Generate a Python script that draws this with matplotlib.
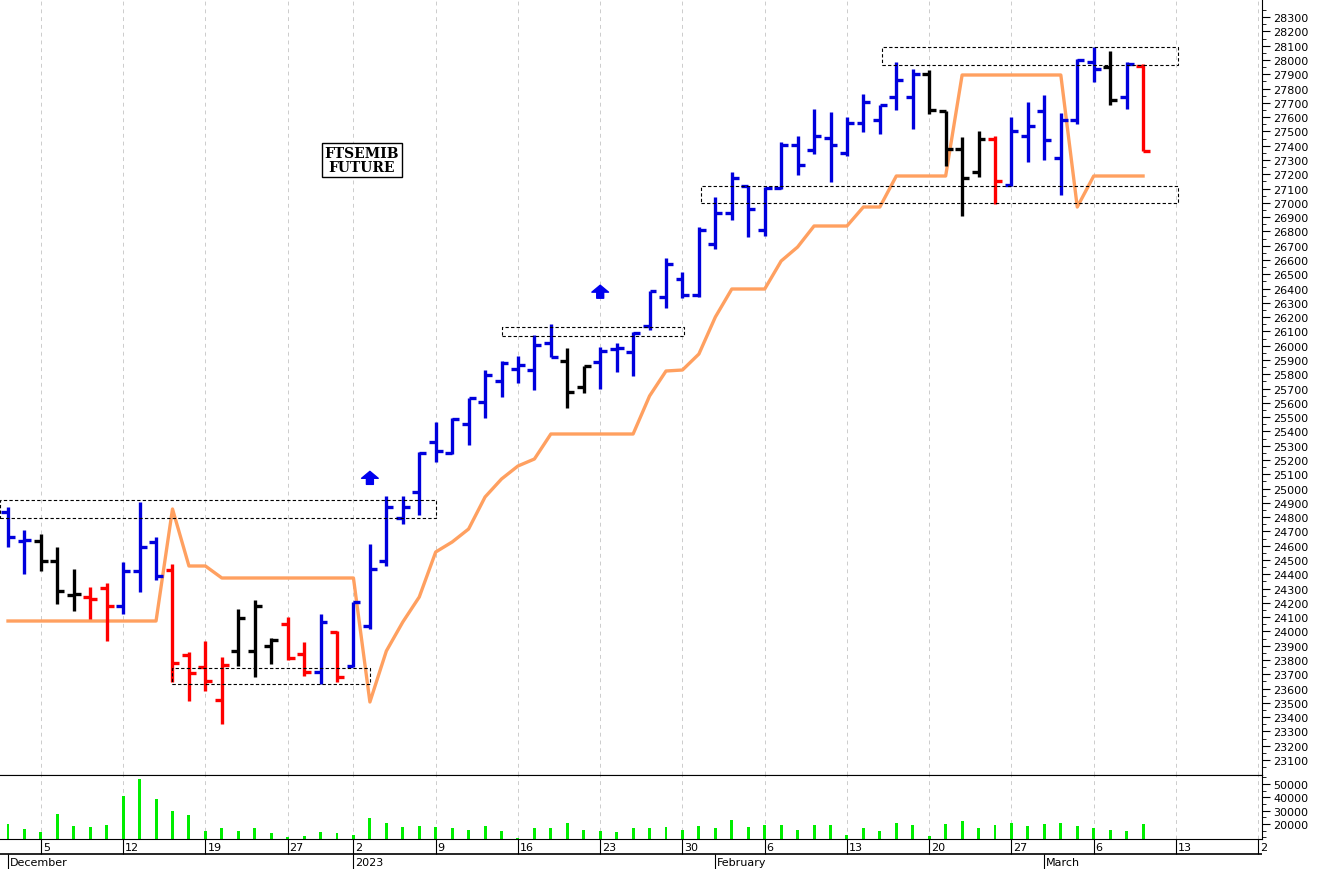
import matplotlib
matplotlib.use("Agg")
import matplotlib.pyplot as plt
from matplotlib.patches import Rectangle

# daily bars, Dec 1 2022 .. Mar 9 2023 (trading days only)
opens = [24836, 24633, 24633, 24493, 24255, 24241, 24304, 24178, 24423, 24626,
         24430, 23835, 23751, 23520, 23863, 23863, 23898, 24052, 23842, 23716,
         23996, 23758, 24038, 24493, 24794, 24976, 25326, 25249, 25452, 25606,
         25753, 25837, 25830, 26019, 25893, 25711, 25886, 25977, 25956, 26138,
         26341, 26467, 26355, 26712, 26929, 27118, 26810, 27104, 27405, 27370,
         27454, 27349, 27559, 27580, 27741, 27741, 27902, 27643, 27377, 27216,
         27447, 27125, 27468, 27643, 27314, 27580, 27986, 27951, 27741, 27958]
highs = [24871, 24710, 24682, 24591, 24437, 24311, 24339, 24486, 24906, 24661,
         24472, 23856, 23933, 23821, 24157, 24220, 23954, 24101, 23926, 24122,
         24003, 24206, 24612, 24948, 24948, 25256, 25466, 25494, 25634, 25830,
         25893, 25928, 26075, 26152, 25984, 25858, 25991, 26019, 26096, 26383,
         26614, 26516, 26831, 27041, 27216, 27118, 27111, 27426, 27468, 27657,
         27636, 27601, 27762, 27685, 27986, 27937, 27930, 27643, 27461, 27503,
         27468, 27601, 27706, 27755, 27629, 28007, 28091, 28063, 27986, 27972]
lows = [24591, 24402, 24423, 24192, 24143, 24087, 23933, 24122, 24276, 24360,
        23646, 23513, 23583, 23352, 23758, 23681, 23772, 23800, 23688, 23632,
        23646, 23751, 24017, 24458, 24752, 24815, 25186, 25242, 25305, 25494,
        25641, 25739, 25690, 25921, 25564, 25669, 25697, 25816, 25788, 26110,
        26264, 26334, 26341, 26677, 26880, 26761, 26768, 27097, 27195, 27342,
        27146, 27328, 27496, 27482, 27650, 27517, 27622, 27258, 26908, 27181,
        26992, 27118, 27286, 27300, 27055, 27552, 27846, 27685, 27657, 27363]
closes = [24661, 24640, 24493, 24283, 24262, 24227, 24178, 24423, 24591, 24388,
          23779, 23709, 23653, 23765, 24094, 24178, 23940, 23814, 23716, 24066,
          23681, 24206, 24437, 24871, 24871, 25249, 25263, 25487, 25634, 25795,
          25879, 25865, 26005, 25921, 25676, 25858, 25963, 25984, 26089, 26383,
          26572, 26355, 26810, 26929, 27174, 26957, 27104, 27405, 27265, 27468,
          27405, 27559, 27706, 27685, 27860, 27902, 27650, 27377, 27174, 27447,
          27153, 27503, 27538, 27440, 27580, 28000, 27937, 27720, 27972, 27363]
bar_colors = "bbkkkrrbbbrrrrkkkrrbrbbbbbbbbbbbbbkkbbbbbbbbbbbbbbbbbbbbkkkkrbbbbbbkbr"
stop_line = [24073] * 10 + [24857, 24458, 24458] + [24374] * 9 + \
            [23506, 23863, 24066, 24241, 24556, 24626, 24717, 24941, 25067, 25158, 25207] + \
            [25382] * 6 + [25648, 25823, 25830, 25942, 26201, 26397, 26397, 26397,
                           26593, 26691, 26838, 26838, 26838, 26971, 26971] + \
            [27188] * 4 + [27895] * 7 + [26971] + [27188] * 4
volume = [20000, 16200, 13700, 27500, 18200, 17500, 19250, 41300, 53800, 38800,
          29500, 26800, 14500, 16700, 14500, 16700, 13200, 10500, 10700, 13700,
          13000, 11700, 24500, 20700, 17500, 18200, 17500, 16700, 15200, 18200,
          14500, 9200, 16700, 16700, 20700, 15200, 14500, 13700, 16700, 16700,
          17500, 15700, 18200, 16700, 22800, 17500, 19000, 19000, 15500, 19000,
          19000, 12000, 16700, 14500, 20700, 19250, 10700, 20000, 22300, 16700,
          19000, 20700, 18200, 20000, 20700, 18200, 16700, 15700, 14500, 20000]
# (x from, x to, price low, price high) of the dashed congestion boxes
boxes = [(-0.5, 26.0, 24794, 24920), (10.0, 22.0, 23632, 23744), (30.0, 41.1, 26068, 26131),
         (42.1, 71.1, 26999, 27118), (53.1, 71.1, 27965, 28091)]
arrows = [(22, 25080), (36, 26383)]
week_ticks = [2, 7, 12, 17, 21, 26, 31, 36, 41, 46, 51, 56, 61, 66, 71, 76]
week_labels = ["5", "12", "19", "27", "2", "9", "16", "23", "30", "6", "13", "20", "27", "6", "13", "2"]
month_ticks = [0, 21, 43, 63]
month_labels = ["December", "2023", "February", "March"]

cmap = {"b": "#0000dd", "r": "#ff0000", "k": "#000000"}
W, H = 1317, 870
fig = plt.figure(figsize=(W / 100, H / 100), dpi=100)
xl = (-0.486, 76.23)
right = 1262 / W
ax = fig.add_axes([0, (H - 776) / H, right, 776 / H])
axv = fig.add_axes([0, (H - 840) / H, right, 64 / H])
axd = fig.add_axes([0, 0, right, 30 / H])

for a in (ax, axv):
    a.set_xlim(*xl)
    for t in week_ticks:
        a.axvline(t, color="#cccccc", ls=(0, (4, 4)), lw=0.7, zorder=0)
    a.set_xticks([])
    a.yaxis.tick_right()
    a.spines["top"].set_visible(False)
    a.spines["left"].set_visible(False)

n = len(opens)
tw = 0.42
for i in range(n):
    c = cmap[bar_colors[i]]
    ax.vlines(i, lows[i], highs[i], color=c, lw=2.4, zorder=3)
    ax.hlines(opens[i], i - tw, i, color=c, lw=2.4, zorder=3)
    ax.hlines(closes[i], i, i + tw, color=c, lw=2.4, zorder=3)
ax.plot(range(n), stop_line, color="#ffa060", lw=2.4, zorder=2)
for x0, x1, lo, hi in boxes:
    ax.add_patch(Rectangle((x0, lo), x1 - x0, hi - lo, fill=False, ec="black",
                           ls=(0, (3, 2)), lw=0.8, zorder=4))
for x, p in arrows:
    ax.annotate("", xy=(x, p + 60), xytext=(x, p - 70),
                arrowprops=dict(arrowstyle="simple,head_width=1.2,tail_width=0.5",
                                color="#0000ee", mutation_scale=10))
ax.text(21.5, 27300, "FTSEMIB\nFUTURE", ha="center", va="center", fontsize=10,
        fontweight="bold", family="DejaVu Serif", linespacing=1.0,
        bbox=dict(boxstyle="square,pad=0.2", fc="white", ec="black", lw=1))
ax.set_ylim(22995, 28427)
ax.set_yticks(range(23100, 28301, 100))
ax.set_yticks(range(23050, 28400, 50), minor=True)
ax.tick_params(axis="y", labelsize=8, length=6, pad=2)
ax.tick_params(axis="y", which="minor", length=3)

axv.bar(range(n), volume, width=0.18, color="#00ee00", bottom=0)
axv.set_ylim(8700, 56800)
axv.set_yticks([20000, 30000, 40000, 50000])
axv.set_yticks(range(10000, 56000, 5000), minor=True)
axv.tick_params(axis="y", labelsize=8, length=6, pad=2)
axv.tick_params(axis="y", which="minor", length=3)
axv.spines["top"].set_visible(True)

axd.set_xlim(*xl)
axd.set_ylim(0, 2)
axd.axis("off")
axd.axhline(1.0, color="black", lw=1.2)
axd.axhline(2.0, color="black", lw=1.2)
for t, lab in zip(week_ticks, week_labels):
    axd.vlines(t, 1, 2, color="black", lw=0.8)
    axd.text(t + 0.12, 1.45, lab, fontsize=8, va="center", ha="left")
for t, lab in zip(month_ticks, month_labels):
    axd.vlines(t, 0, 1, color="black", lw=0.8)
    axd.text(t + 0.12, 0.45, lab, fontsize=8, va="center", ha="left")

fig.savefig("out.png", dpi=100)
